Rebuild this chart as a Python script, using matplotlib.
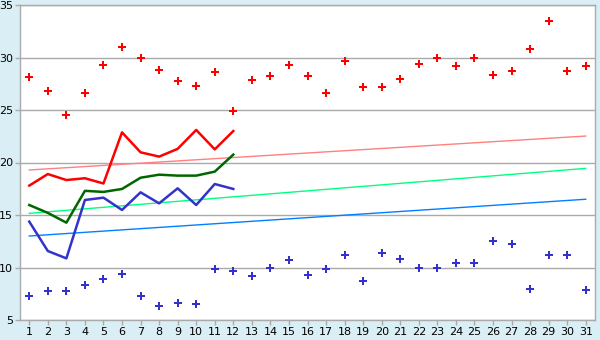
import matplotlib.pyplot as plt

# =========================
# DATA
# =========================

days = list(range(1, 32))
days_line = list(range(1, 13))

max_pts = [28.1, 26.8, 24.5, 26.6, 29.25, 31.0, 30.0, 28.8, 27.8, 27.25,
           28.6, 24.9, 27.9, 28.2, 29.25, 28.2, 26.6, 29.7, 27.15, 27.15,
           28.0, 29.35, 30.0, 29.15, 30.0, 28.3, 28.7, 30.8, 33.45, 28.7, 29.15]

min_pts = [7.26, 7.73, 7.73, 8.3, 8.87, 9.35, 7.26, 6.3, 6.59, 6.5,
           9.83, 9.64, 9.16, 10.0, 10.7, 9.25, 9.9, 11.15, 8.68, 11.35,
           10.78, 10.0, 10.0, 10.4, 10.4, 12.5, 12.2, 7.92, 11.15, 11.15, 7.83]

red_line = [17.8, 18.9, 18.33, 18.5, 18.0, 22.87, 20.97, 20.56, 21.3, 23.1, 21.25, 23.0]
green_line = [15.95, 15.2, 14.27, 17.3, 17.2, 17.48, 18.55, 18.84, 18.75, 18.75, 19.13, 20.75]
blue_line = [14.37, 11.57, 10.87, 16.43, 16.65, 15.48, 17.16, 16.11, 17.54, 15.95, 17.95, 17.48]

# trend lines (value at day 1 and day 31)
trend_days = [1, 31]
red_trend = [19.29, 22.52]
green_trend = [15.16, 19.44]
blue_trend = [13.0, 16.5]

# =========================
# PLOT
# =========================

bg = "#daeff5"
fig = plt.figure(figsize=(6, 3.4), dpi=100, facecolor=bg)
ax = fig.add_axes([20 / 600, 20 / 340, 575 / 600, 315 / 340])
ax.set_facecolor("white")

ax.set_xlim(0.5, 31.5)
ax.set_ylim(5, 35)
ax.set_yticks(range(5, 36, 5))
ax.set_xticks(days)
ax.yaxis.grid(True, color="#aaaaaa", linewidth=1)
ax.set_axisbelow(True)

for s in ax.spines.values():
    s.set_color("#aaaaaa")
    s.set_linewidth(1)
ax.tick_params(axis="both", colors="#aaaaaa", labelcolor="black", labelsize=8,
               length=3.5, width=1, pad=1.5)

ax.plot(trend_days, red_trend, color="#ff8080", linewidth=1)
ax.plot(trend_days, green_trend, color="#00ff80", linewidth=1)
ax.plot(trend_days, blue_trend, color="#0080ff", linewidth=1)

ax.plot(days_line, red_line, color="#ff0000", linewidth=1.8)
ax.plot(days_line, green_line, color="#006600", linewidth=1.8)
ax.plot(days_line, blue_line, color="#3333cc", linewidth=1.8)

ax.plot(days, max_pts, linestyle="none", marker="P", markersize=5.5,
        color="#ff0000", markeredgewidth=0)
ax.plot(days, min_pts, linestyle="none", marker="P", markersize=5.5,
        color="#3333cc", markeredgewidth=0)

plt.savefig("out.png", dpi=100, facecolor=bg)
plt.close()
